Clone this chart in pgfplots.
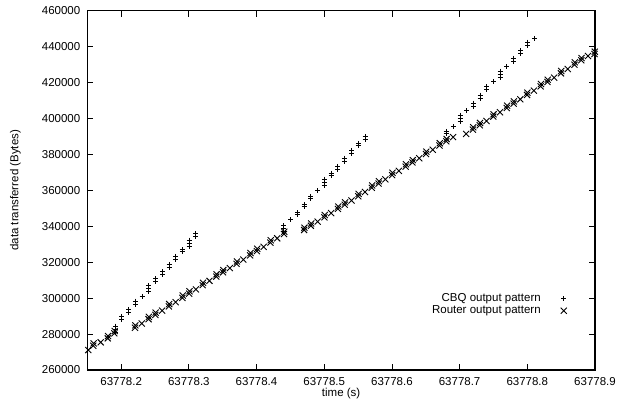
\documentclass[border=0pt]{standalone}
\usepackage{fontspec}
\setmainfont{Liberation Sans}
\usepackage{pgfplots}
\pgfplotsset{compat=1.18}
\usepackage{pgfplotstable}
% times are stored as seconds after 63778 s
\pgfplotstableread{
t v
0.1913 281000
0.1913 282700
0.1913 284400
0.2012 288100
0.2012 289800
0.2109 292100
0.2109 293800
0.2212 296700
0.2212 298400
0.2311 301030
0.2410 303550
0.2410 305250
0.2410 306950
0.2513 309500
0.2513 310700
0.2611 312980
0.2611 314680
0.2709 317150
0.2709 318850
0.2808 321600
0.2808 323300
0.2906 325750
0.2906 326950
0.3004 328830
0.3004 330530
0.3004 332230
0.3103 334550
0.3103 335750
0.4397 336950
0.4397 338650
0.4397 340350
0.4506 343770
0.4604 346400
0.4604 347600
0.4703 350800
0.4703 352000
0.4802 355420
0.4802 356620
0.4905 359750
0.5003 362780
0.5003 364480
0.5003 366180
0.5102 368390
0.5102 369590
0.5201 371590
0.5201 373290
0.5298 376210
0.5298 377910
0.5408 380500
0.5408 382200
0.5505 384920
0.5505 386120
0.5604 388120
0.5604 389820
0.6801 391600
0.6801 392800
0.6909 395430
0.7009 398460
0.7009 400160
0.7009 401860
0.7107 404170
0.7205 406830
0.7205 408530
0.7304 411280
0.7304 412980
0.7403 415950
0.7403 417650
0.7501 420480
0.7600 422900
0.7600 424600
0.7600 426300
0.7699 428830
0.7796 431870
0.7796 433570
0.7905 436050
0.7905 437750
0.8003 440780
0.8003 442480
0.8107 444640
}\cbqdata
\pgfplotstableread{
t v
0.1515 271100
0.1589 273500
0.1594 274800
0.1698 275400
0.1802 277600
0.1807 278900
0.1899 280400
0.1904 281700
0.2205 283540
0.2210 284840
0.2305 285910
0.2405 288280
0.2410 289580
0.2505 290650
0.2510 291950
0.2605 293020
0.2705 295390
0.2710 296690
0.2805 297760
0.2905 300130
0.2910 301430
0.3005 302500
0.3010 303800
0.3105 304870
0.3205 307240
0.3210 308540
0.3305 309610
0.3405 311980
0.3410 313280
0.3505 314350
0.3510 315650
0.3605 316720
0.3705 319090
0.3710 320390
0.3805 321460
0.3905 323830
0.3910 325130
0.4005 326200
0.4010 327500
0.4105 328570
0.4205 330940
0.4210 332240
0.4305 333310
0.4405 335680
0.4410 336980
0.4703 337930
0.4708 339230
0.4803 340280
0.4808 341580
0.4903 342630
0.5003 344980
0.5008 346280
0.5103 347330
0.5203 349680
0.5208 350980
0.5303 352030
0.5308 353330
0.5403 354380
0.5503 356730
0.5508 358030
0.5603 359080
0.5703 361430
0.5708 362730
0.5803 363780
0.5808 365080
0.5903 366130
0.6003 368480
0.6008 369780
0.6103 370830
0.6203 373180
0.6208 374480
0.6303 375530
0.6308 376830
0.6403 377880
0.6503 380230
0.6508 381530
0.6603 382580
0.6703 384930
0.6708 386230
0.6803 387280
0.6808 388580
0.6903 389630
0.7097 391400
0.7197 393810
0.7202 395110
0.7297 396220
0.7302 397520
0.7397 398630
0.7497 401040
0.7502 402340
0.7597 403450
0.7697 405860
0.7702 407160
0.7797 408270
0.7802 409570
0.7897 410680
0.7997 413090
0.8002 414390
0.8097 415500
0.8197 417910
0.8202 419210
0.8297 420320
0.8302 421620
0.8397 422730
0.8497 425140
0.8502 426440
0.8597 427550
0.8697 429960
0.8702 431260
0.8797 432370
0.8802 433670
0.8897 434780
0.8997 437190
0.8992 435890
}\routerdata
\begin{document}
\begin{tikzpicture}[font=\fontsize{11.5}{13.8}\selectfont]
\path[use as bounding box] (0,0) rectangle (630pt,406pt);
\begin{axis}[
  at={(87.3pt,36pt)}, anchor=south west,
  scale only axis, width=507.7pt, height=359.3pt,
  xmin=0.15, xmax=0.9, ymin=260000, ymax=460000,
  xtick={0.2,0.3,0.4,0.5,0.6,0.7,0.8,0.9},
  xticklabels={63778.2,63778.3,63778.4,63778.5,63778.6,63778.7,63778.8,63778.9},
  ytick={260000,280000,300000,320000,340000,360000,380000,400000,420000,440000,460000},
  scaled y ticks=false,
  yticklabel style={/pgf/number format/fixed, /pgf/number format/1000 sep={}, xshift=-3.5pt},
  xticklabel style={yshift=-4pt},
  /pgf/number format/assume math mode=true,
  tick align=inside, major tick length=6pt,
  every tick/.style={black, line width=0.8pt},
  axis line style={line width=1.1pt},
  xlabel={time (s)}, ylabel={data transferred (Bytes)},
  xlabel style={at={(axis description cs:0.5,-0.0738)}, anchor=base, inner sep=0pt},
  ylabel style={at={(axis description cs:-0.1414,0.5)}, anchor=center},
  legend style={at={(axis description cs:0.9449,0.2157)}, anchor=north east,
    draw=none, fill=none, inner sep=0pt, column sep=19.5pt,
    nodes={inner sep=0.5pt, text height=8.5pt, text depth=2.5pt}},
  legend cell align=right, legend plot pos=right,
  clip=false,
]
\addplot[only marks, black, mark=+, mark size=2.5pt, mark options={line width=1pt}] table[x=t,y=v] {\cbqdata};
\addlegendentry{CBQ output pattern}
\addplot[only marks, black, mark=x, mark size=4.3pt, mark options={line width=0.9pt}] table[x=t,y=v] {\routerdata};
\addlegendentry{Router output pattern}
\end{axis}
\end{tikzpicture}
\end{document}
